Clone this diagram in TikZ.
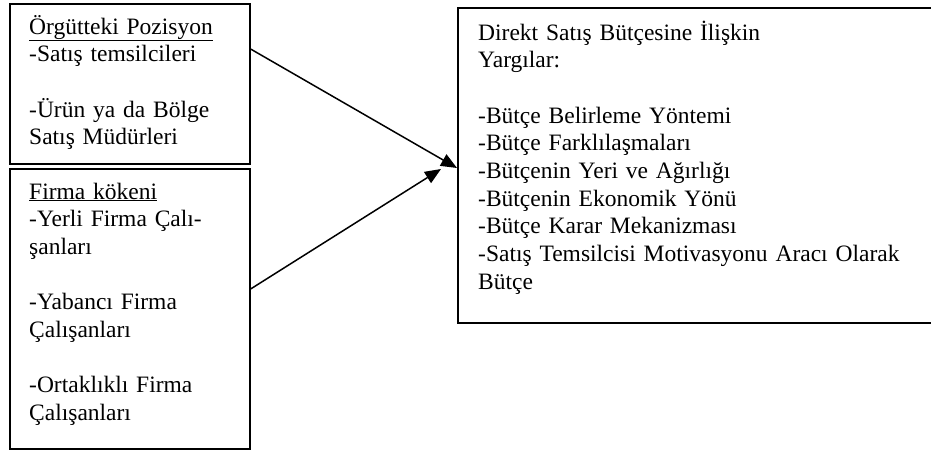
\documentclass[tikz,border=0pt]{standalone}
\usepackage{fontspec}
\setmainfont{Liberation Serif}
\usetikzlibrary{arrows.meta,calc}
\tikzset{
  box/.style={draw, line width=1.6pt, anchor=north west, inner sep=0pt},
  txt/.style={anchor=base west, align=left, inner sep=0pt, text width=#1,
    font=\fontsize{23.5pt}{27.7pt}\selectfont},
  arr/.style={line width=1.5pt, -{Triangle[length=16pt,width=13pt]}}
}
\begin{document}
\begin{tikzpicture}[x=1pt,y=-1pt]
    \clip (0,0) rectangle (931,455);
    \node[box, minimum width=240pt, minimum height=160pt] (org) at (9,3) {};
    \node[box, minimum width=240pt, minimum height=280pt] (firma) at (9,168) {};
    \node[box, minimum width=490pt, minimum height=315pt] (dir) at (457,7) {};
    \node[txt=215pt] (orgtxt) at (29,34) {\underline{Örgütteki Pozisyon}\\
      -Satış temsilcileri\\[\baselineskip]
      -Ürün ya da Bölge\\ Satış Müdürleri};
    \node[txt=215pt] (firmatxt) at (29,199) {\underline{Firma kökeni}\\
      -Yerli Firma Çalı-\\ şanları\\[\baselineskip]
      -Yabancı Firma\\ Çalışanları\\[\baselineskip]
      -Ortaklıklı Firma\\ Çalışanları};
    \node[txt=450pt] (dirtxt) at (478,40) {Direkt Satış Bütçesine İlişkin\\
      Yargılar:\\[\baselineskip]
      -Bütçe Belirleme Yöntemi\\ -Bütçe Farklılaşmaları\\
      -Bütçenin Yeri ve Ağırlığı\\ -Bütçenin Ekonomik Yönü\\
      -Bütçe Karar Mekanizması\\
      -Satış Temsilcisi Motivasyonu Aracı Olarak\\ Bütçe};
    \coordinate (tip1) at ($(dir.north west)+(0,161)$);
    \coordinate (tip2) at ($(dir.north west)+(-16,162)$);
    \draw[arr] ($(org.north east)+(0,46)$) -- (tip1);
    \draw[arr] ($(firma.north east)+(0,121)$) -- (tip2);
  \end{tikzpicture}
\end{document}
